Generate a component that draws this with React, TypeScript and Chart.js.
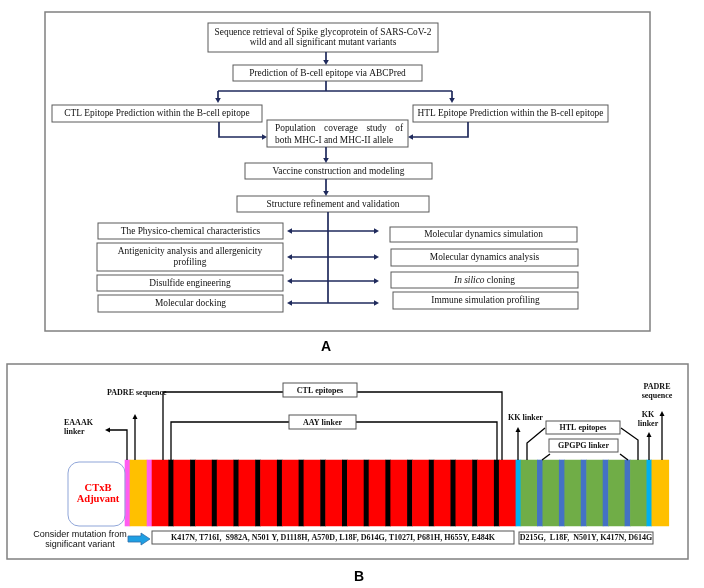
import React, { useEffect, useRef } from "react";
import { Chart, registerables } from "chart.js";

Chart.register(...registerables);

// ---------------- DATA ----------------
const flowSteps: string[][] = [
  ["Sequence retrieval of Spike glycoprotein of SARS-CoV-2", "wild and all significant mutant variants"],
  ["Prediction of B-cell epitope via ABCPred"],
  ["CTL Epitope Prediction within the B-cell epitope"],
  ["HTL Epitope Prediction within the B-cell epitope"],
  ["Population coverage study of", "both MHC-I and MHC-II allele"],
  ["Vaccine construction and modeling"],
  ["Structure refinement and validation"],
];
const leftAnalyses: string[][] = [
  ["The Physico-chemical characteristics"],
  ["Antigenicity analysis and allergenicity", "profiling"],
  ["Disulfide engineering"],
  ["Molecular docking"],
];
const rightAnalyses: string[][] = [
  ["Molecular dynamics simulation"],
  ["Molecular dynamics analysis"],
  ["*In silico* cloning"],
  ["Immune simulation profiling"],
];
const panelLabels = ["A", "B"];

// vaccine construct: counts of epitopes and relative segment lengths
const ctlEpitopeCount = 17;
const htlEpitopeCount = 6;
const segmentTypes = ["eaaak", "padre", "ctl", "aay", "kk", "htl", "gpgpg"];
const segmentLengths = [5, 17, 16.7, 5, 5, 16.4, 5.5];
const segmentColors = ["#FF5CF2", "#FFC000", "#FF0000", "#000000", "#00B0F0", "#70AD47", "#4472C4"];
const adjuvantLabel = ["CTxB", "Adjuvant"];
const constructLabels = {
  padreLeft: ["PADRE sequence"],
  eaaak: ["EAAAK", "linker"],
  ctl: ["CTL epitopes"],
  aay: ["AAY linker"],
  kkLeft: ["KK linker"],
  htl: ["HTL epitopes"],
  gpgpg: ["GPGPG linker"],
  padreRight: ["PADRE", "sequence"],
  kkRight: ["KK", "linker"],
};
const mutationNote = ["Consider mutation from", "significant variant"];
const ctlMutations = "K417N, T716I,  S982A, N501 Y, D1118H, A570D, L18F, D614G, T1027I, P681H, H655Y, E484K";
const htlMutations = "D215G,  L18F,  N501Y, K417N, D614G";

// ---------------- LAYOUT ----------------
const SERIF = '"Liberation Serif", "Times New Roman", serif';
const SANS = '"Liberation Sans", Arial, sans-serif';
const NAVY = "#1F2A5C";
const FS_A = 9.4;

type B = [number, number, number, number];
const frameA: B = [45, 12, 650, 331];
const frameB: B = [7, 364, 688, 559];
const flowBoxes: B[] = [
  [208, 23, 438, 52],
  [233, 65, 422, 81],
  [52, 105, 262, 122],
  [413, 105, 608, 122],
  [267, 120, 408, 147],
  [245, 163, 432, 179],
  [237, 196, 429, 212],
];
const leftBoxes: B[] = [
  [98, 223, 283, 239],
  [97, 243, 283, 271],
  [97, 275, 283, 291],
  [98, 295, 283, 312],
];
const rightBoxes: B[] = [
  [390, 227, 577, 242],
  [391, 249, 578, 266],
  [391, 272, 578, 288],
  [393, 292, 578, 309],
];
const analysisArrowY = [231, 257, 281, 303];
const barStart = 125;
const barY = 493;
const barH = 66;

function buildConstruct() {
  const seq: number[] = [0, 1, 0];
  for (let i = 0; i < ctlEpitopeCount; i++) {
    seq.push(2);
    if (i < ctlEpitopeCount - 1) seq.push(3);
  }
  seq.push(4);
  for (let i = 0; i < htlEpitopeCount; i++) {
    seq.push(5);
    if (i < htlEpitopeCount - 1) seq.push(6);
  }
  seq.push(4, 1);
  const data: { x: [number, number]; y: number }[] = [];
  const colors: string[] = [];
  let s = barStart;
  for (const t of seq) {
    const e = s + segmentLengths[t];
    data.push({ x: [s, e], y: barY });
    colors.push(segmentColors[t]);
    s = e;
  }
  return { data, colors };
}

// ---------------- DRAW HELPERS ----------------
function richParts(text: string) {
  const parts: { t: string; i: boolean }[] = [];
  const re = /\*([^*]+)\*/g;
  let last = 0;
  let m: RegExpExecArray | null;
  while ((m = re.exec(text))) {
    if (m.index > last) parts.push({ t: text.slice(last, m.index), i: false });
    parts.push({ t: m[1], i: true });
    last = m.index + m[0].length;
  }
  if (last < text.length) parts.push({ t: text.slice(last), i: false });
  return parts;
}

const diagramPlugin = {
  id: "diagram",
  afterDatasetsDraw(chart: any) {
    const ctx: CanvasRenderingContext2D = chart.ctx;
    const X = (v: number) => chart.scales.x.getPixelForValue(v);
    const Y = (v: number) => chart.scales.y.getPixelForValue(v);

    const line = (pts: number[][], color: string, w: number) => {
      ctx.save();
      ctx.strokeStyle = color;
      ctx.lineWidth = w;
      ctx.beginPath();
      pts.forEach((p, i) => (i ? ctx.lineTo(X(p[0]), Y(p[1])) : ctx.moveTo(X(p[0]), Y(p[1]))));
      ctx.stroke();
      ctx.restore();
    };
    const head = (fx: number, fy: number, tx: number, ty: number, color: string, len = 5, hw = 2.8) => {
      const x1 = X(fx), y1 = Y(fy), x2 = X(tx), y2 = Y(ty);
      const a = Math.atan2(y2 - y1, x2 - x1);
      ctx.save();
      ctx.fillStyle = color;
      ctx.beginPath();
      ctx.moveTo(x2, y2);
      ctx.lineTo(x2 - len * Math.cos(a) + hw * Math.sin(a), y2 - len * Math.sin(a) - hw * Math.cos(a));
      ctx.lineTo(x2 - len * Math.cos(a) - hw * Math.sin(a), y2 - len * Math.sin(a) + hw * Math.cos(a));
      ctx.closePath();
      ctx.fill();
      ctx.restore();
    };
    const arrowPath = (pts: number[][], color: string, w: number, len = 5, hw = 2.8) => {
      const n = pts.length;
      const a = pts[n - 2], b = pts[n - 1];
      const d = Math.hypot(b[0] - a[0], b[1] - a[1]);
      const sh = [...pts.slice(0, n - 1), [b[0] - ((b[0] - a[0]) / d) * (len - 1), b[1] - ((b[1] - a[1]) / d) * (len - 1)]];
      line(sh, color, w);
      head(a[0], a[1], b[0], b[1], color, len, hw);
    };
    const rect = (b: B, stroke: string, w: number, fill?: string) => {
      ctx.save();
      if (fill) {
        ctx.fillStyle = fill;
        ctx.fillRect(X(b[0]), Y(b[1]), X(b[2]) - X(b[0]), Y(b[3]) - Y(b[1]));
      }
      ctx.strokeStyle = stroke;
      ctx.lineWidth = w;
      ctx.strokeRect(X(b[0]), Y(b[1]), X(b[2]) - X(b[0]), Y(b[3]) - Y(b[1]));
      ctx.restore();
    };
    const text = (
      lines: string[], cx: number, cy: number, lh: number, size: number, family: string,
      color: string, weight = "normal", align: "center" | "left" = "center"
    ) => {
      ctx.save();
      ctx.fillStyle = color;
      ctx.textBaseline = "middle";
      const y0 = cy - ((lines.length - 1) * lh) / 2;
      lines.forEach((ln, i) => {
        const parts = richParts(ln);
        const fontOf = (it: boolean) => `${it ? "italic " : ""}${weight} ${size}px ${family}`;
        let total = 0;
        parts.forEach((p) => { ctx.font = fontOf(p.i); total += ctx.measureText(p.t).width; });
        let x = align === "center" ? X(cx) - total / 2 : X(cx);
        ctx.textAlign = "left";
        parts.forEach((p) => {
          ctx.font = fontOf(p.i);
          ctx.fillText(p.t, x, Y(y0 + i * lh));
          x += ctx.measureText(p.t).width;
        });
      });
      ctx.restore();
    };
    const justified = (ln: string, x1: number, x2: number, cy: number, size: number) => {
      ctx.save();
      ctx.font = `${size}px ${SERIF}`;
      ctx.fillStyle = "#111";
      ctx.textBaseline = "middle";
      const words = ln.split(/\s+/);
      const ws = words.map((w) => ctx.measureText(w).width);
      const gap = (X(x2) - X(x1) - ws.reduce((a, b) => a + b, 0)) / (words.length - 1);
      let x = X(x1);
      words.forEach((w, i) => { ctx.fillText(w, x, Y(cy)); x += ws[i] + gap; });
      ctx.restore();
    };
    const boxText = (b: B, lines: string[], lh = 11) =>
      text(lines, (b[0] + b[2]) / 2, (b[1] + b[3]) / 2 + 0.5, lh, FS_A, SERIF, "#111");

    // ===== Panel A =====
    rect(frameA, "#808080", 1.5);
    flowBoxes.forEach((b) => rect(b, "#5A5A5A", 1, "#fff"));
    flowSteps.forEach((lines, i) => {
      const b = flowBoxes[i];
      if (i === 4) {
        justified(lines[0], b[0] + 8, b[2] - 5, b[1] + 8.5, FS_A);
        text([lines[1]], b[0] + 8, b[1] + 20.5, 11, FS_A, SERIF, "#111", "normal", "left");
      } else boxText(b, lines, 10);
    });
    leftBoxes.forEach((b, i) => { rect(b, "#5A5A5A", 1, "#fff"); boxText(b, leftAnalyses[i]); });
    rightBoxes.forEach((b, i) => { rect(b, "#5A5A5A", 1, "#fff"); boxText(b, rightAnalyses[i]); });

    const cx = (flowBoxes[0][0] + flowBoxes[0][2]) / 2 + 3;
    arrowPath([[cx, flowBoxes[0][3]], [cx, flowBoxes[1][1]]], NAVY, 1.7);
    line([[cx, flowBoxes[1][3]], [cx, 91]], NAVY, 1.7);
    line([[218, 91], [452, 91]], NAVY, 1.7);
    arrowPath([[218, 91], [218, 103]], NAVY, 1.7);
    arrowPath([[452, 91], [452, 103]], NAVY, 1.7);
    arrowPath([[219, 122], [219, 137], [267, 137]], NAVY, 1.7);
    arrowPath([[468, 122], [468, 137], [408, 137]], NAVY, 1.7);
    arrowPath([[cx, flowBoxes[4][3]], [cx, flowBoxes[5][1]]], NAVY, 1.7);
    arrowPath([[cx, flowBoxes[5][3]], [cx, flowBoxes[6][1]]], NAVY, 1.7);
    line([[cx + 2, flowBoxes[6][3]], [cx + 2, analysisArrowY[3]]], NAVY, 1.7);
    analysisArrowY.forEach((y) => {
      arrowPath([[cx + 2, y], [379, y]], NAVY, 1.7);
      arrowPath([[cx + 2, y], [287, y]], NAVY, 1.7);
    });
    text([panelLabels[0]], 326, 347, 12, 14, SANS, "#000", "bold");

    // ===== Panel B =====
    rect(frameB, "#808080", 1.5);
    // adjuvant
    ctx.save();
    ctx.strokeStyle = "#8FA5D8";
    ctx.lineWidth = 1;
    ctx.beginPath();
    (ctx as any).roundRect(X(68), Y(462), X(125) - X(68), Y(526) - Y(462), 11);
    ctx.stroke();
    ctx.restore();
    text(adjuvantLabel, 98, 494, 11, 10.5, SERIF, "#FF0000", "bold");

    const K = "#000";
    const BF = (lines: string[], x: number, y: number, lh = 9, align: "center" | "left" = "center") =>
      text(lines, x, y, lh, 8, SERIF, "#111", "bold", align);
    const top = barY - barH / 2;

    // PADRE left
    BF(constructLabels.padreLeft, 107, 393, 9, "left");
    arrowPath([[135, top], [135, 414]], K, 1.3, 5, 2.5);
    // EAAAK
    BF(constructLabels.eaaak, 64, 427.5, 9, "left");
    arrowPath([[127, top], [127, 430], [105, 430]], K, 1.3, 5, 2.5);
    // CTL epitopes
    line([[163, top], [163, 392], [283, 392]], K, 1.3);
    line([[357, 392], [502, 392], [502, top]], K, 1.3);
    rect([283, 383, 357, 397], "#555", 1, "#fff");
    BF(constructLabels.ctl, 320, 390.5);
    // AAY linker
    line([[171, top], [171, 422], [289, 422]], K, 1.3);
    line([[356, 422], [497, 422], [497, top]], K, 1.3);
    rect([289, 415, 356, 429], "#555", 1, "#fff");
    BF(constructLabels.aay, 322.5, 422.5);
    // KK left
    BF(constructLabels.kkLeft, 508, 418, 9, "left");
    arrowPath([[518, top], [518, 427]], K, 1.3, 5, 2.5);
    // HTL epitopes
    line([[527, top], [527, 443], [545, 428]], K, 1.3);
    line([[638, top], [638, 440], [621, 428]], K, 1.3);
    rect([546, 421, 620, 434], "#555", 1, "#fff");
    BF(constructLabels.htl, 583, 428);
    // GPGPG
    line([[542, top], [550, 454]], K, 1.3);
    line([[628, top], [620, 454]], K, 1.3);
    rect([549, 439, 618, 452], "#555", 1, "#fff");
    BF(constructLabels.gpgpg, 583.5, 446);
    // PADRE right, KK right
    BF(constructLabels.padreRight, 657, 391.5, 9);
    arrowPath([[662, top], [662, 411]], K, 1.3, 5, 2.5);
    BF(constructLabels.kkRight, 648, 419.5, 9);
    arrowPath([[649, top], [649, 432]], K, 1.3, 5, 2.5);

    // bottom
    text(mutationNote, 80, 539.5, 9.5, 9, SANS, "#111");
    // block arrow
    ctx.save();
    ctx.fillStyle = "#1E9FE3";
    ctx.strokeStyle = "#2E6DA8";
    ctx.lineWidth = 0.8;
    ctx.beginPath();
    const ay = 539;
    const pts = [[128, ay - 3], [141, ay - 3], [141, ay - 6], [150, ay], [141, ay + 6], [141, ay + 3], [128, ay + 3]];
    pts.forEach((p, i) => (i ? ctx.lineTo(X(p[0]), Y(p[1])) : ctx.moveTo(X(p[0]), Y(p[1]))));
    ctx.closePath();
    ctx.fill();
    ctx.stroke();
    ctx.restore();
    rect([152, 531, 514, 544], "#555", 1, "#fff");
    BF([ctlMutations], 333, 537.5);
    rect([519, 532, 653, 544], "#555", 1, "#fff");
    BF([htlMutations], 586, 538);

    text([panelLabels[1]], 359, 577, 12, 14, SANS, "#000", "bold");
  },
};

export default function App() {
  const ref = useRef<HTMLCanvasElement>(null);
  useEffect(() => {
    if (!ref.current) return;
    const { data, colors } = buildConstruct();
    const chart = new Chart(ref.current, {
      type: "bar",
      data: {
        datasets: [
          {
            data: data as any,
            backgroundColor: colors,
            borderWidth: 0,
            barThickness: barH,
            grouped: false,
            inflateAmount: 0.3,
          } as any,
        ],
      },
      options: {
        indexAxis: "y",
        animation: false,
        responsive: false,
        devicePixelRatio: 1,
        events: [],
        layout: { padding: 0 },
        plugins: { legend: { display: false }, tooltip: { enabled: false } },
        scales: {
          x: { type: "linear", min: 0, max: 704, display: false, offset: false, grid: { offset: false } },
          y: { type: "linear", min: 0, max: 588, reverse: true, display: false, offset: false, grid: { offset: false } },
        },
      },
      plugins: [diagramPlugin],
    });
    return () => chart.destroy();
  }, []);
  return (
    <div style={{ position: "absolute", left: 0, top: 0, width: 704, height: 588, background: "#fff" }}>
      <canvas ref={ref} width={704} height={588} />
    </div>
  );
}
